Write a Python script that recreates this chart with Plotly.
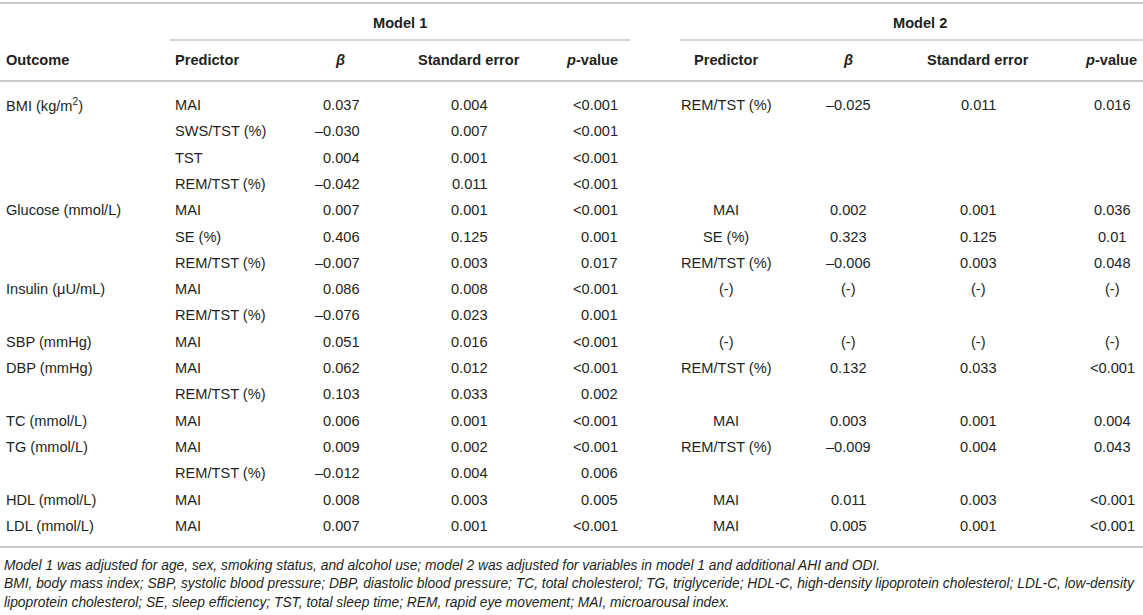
import plotly.graph_objects as go

# ---------------- data ----------------
outcomes = ["BMI (kg/m<sup>2</sup>)", "", "", "", "Glucose (mmol/L)", "", "", "Insulin (μU/mL)", "",
            "SBP (mmHg)", "DBP (mmHg)", "", "TC (mmol/L)", "TG (mmol/L)", "", "HDL (mmol/L)", "LDL (mmol/L)"]
m1_predictor = ["MAI", "SWS/TST (%)", "TST", "REM/TST (%)", "MAI", "SE (%)", "REM/TST (%)", "MAI", "REM/TST (%)",
                "MAI", "MAI", "REM/TST (%)", "MAI", "MAI", "REM/TST (%)", "MAI", "MAI"]
m1_beta = ["0.037", "–0.030", "0.004", "–0.042", "0.007", "0.406", "–0.007", "0.086", "–0.076",
           "0.051", "0.062", "0.103", "0.006", "0.009", "–0.012", "0.008", "0.007"]
m1_se = ["0.004", "0.007", "0.001", "0.011", "0.001", "0.125", "0.003", "0.008", "0.023",
         "0.016", "0.012", "0.033", "0.001", "0.002", "0.004", "0.003", "0.001"]
m1_p = ["<0.001", "<0.001", "<0.001", "<0.001", "<0.001", "0.001", "0.017", "<0.001", "0.001",
        "<0.001", "<0.001", "0.002", "<0.001", "<0.001", "0.006", "0.005", "<0.001"]
m2_predictor = ["REM/TST (%)", "", "", "", "MAI", "SE (%)", "REM/TST (%)", "(-)", "",
                "(-)", "REM/TST (%)", "", "MAI", "REM/TST (%)", "", "MAI", "MAI"]
m2_beta = ["–0.025", "", "", "", "0.002", "0.323", "–0.006", "(-)", "",
           "(-)", "0.132", "", "0.003", "–0.009", "", "0.011", "0.005"]
m2_se = ["0.011", "", "", "", "0.001", "0.125", "0.003", "(-)", "",
         "(-)", "0.033", "", "0.001", "0.004", "", "0.003", "0.001"]
m2_p = ["0.016", "", "", "", "0.036", "0.01", "0.048", "(-)", "",
        "(-)", "<0.001", "", "0.004", "0.043", "", "<0.001", "<0.001"]

group_titles = ["Model 1", "Model 2"]
col_headers = ["Outcome", "Predictor", "β", "Standard error", "<i>p</i>-value",
               "Predictor", "β", "Standard error", "<i>p</i>-value"]
header_italic = [False, False, True, False, False, False, True, False, False]
footnotes = [
    "Model 1 was adjusted for age, sex, smoking status, and alcohol use; model 2 was adjusted for variables in model 1 and additional AHI and ODI.",
    "BMI, body mass index; SBP, systolic blood pressure; DBP, diastolic blood pressure; TC, total cholesterol; TG, triglyceride; HDL-C, high-density lipoprotein cholesterol; LDL-C, low-density",
    "lipoprotein cholesterol; SE, sleep efficiency; TST, total sleep time; REM, rapid eye movement; MAI, microarousal index.",
]

# ---------------- layout constants ----------------
W, H = 1143, 615
FONT = "Liberation Sans"
TXT = "#231f20"
RULE = "#c9c9c9"
BODY = 14.6
FN = 13.8

cols = [(4, "left"), (173, "left"), (362, "right"), (469, "center"), (620, "right"),
        (726, "center"), (848, "center"), (978, "center"), (1112, "center")]
hdr_pos = [(4, "left"), (173, "left"), (340, "center"), (469, "center"), (620, "right"),
           (726, "center"), (848, "center"), (978, "center"), (1111, "center")]
group_x = [400, 920]
group_lines = [(170, 630), (680, 1143)]

Y_GROUP, Y_GLINE, Y_HDR, Y_HRULE = 23, 40, 60, 81
Y_ROW0, PITCH = 105, 26.3
Y_TOP, Y_BOT = 3, 547
Y_FN0, FN_PITCH = 565, 18.8

annotations = []
def add(x, y, text, anchor, size=BODY, bold=False, italic=False):
    annotations.append(dict(x=x, y=y, xref="x", yref="y", text=text, showarrow=False,
                            xanchor=anchor, yanchor="middle",
                            font=dict(family=FONT, size=size, color=TXT,
                                      weight="bold" if bold else "normal",
                                      style="italic" if italic else "normal")))

for gx, gt in zip(group_x, group_titles):
    add(gx, Y_GROUP, gt, "center", bold=True)
for (hx, ha), ht, it in zip(hdr_pos, col_headers, header_italic):
    add(hx, Y_HDR, ht, ha, bold=True, italic=it)

columns = [outcomes, m1_predictor, m1_beta, m1_se, m1_p, m2_predictor, m2_beta, m2_se, m2_p]
for (cx, ca), values in zip(cols, columns):
    for i, v in enumerate(values):
        if v:
            add(cx, Y_ROW0 + i * PITCH, v, ca)

for k, fn in enumerate(footnotes):
    add(2, Y_FN0 + k * FN_PITCH, fn, "left", size=FN, italic=True)

shapes = []
def hline(x0, x1, y, w=2):
    shapes.append(dict(type="line", xref="x", yref="y", x0=x0, x1=x1, y0=y, y1=y,
                       line=dict(color=RULE, width=w)))

hline(0, W, Y_TOP)
for x0, x1 in group_lines:
    hline(x0, x1, Y_GLINE, 1.5)
hline(0, W, Y_HRULE)
hline(0, W, Y_BOT)

fig = go.Figure()
fig.update_layout(
    width=W, height=H, margin=dict(l=0, r=0, t=0, b=0),
    paper_bgcolor="white", plot_bgcolor="white",
    xaxis=dict(range=[0, W], visible=False, fixedrange=True),
    yaxis=dict(range=[H, 0], visible=False, fixedrange=True),
    annotations=annotations, shapes=shapes, showlegend=False,
)
fig.write_html("out.html", config={"displayModeBar": False},
               post_script="document.body.style.margin='0';document.body.style.overflow='hidden';")
